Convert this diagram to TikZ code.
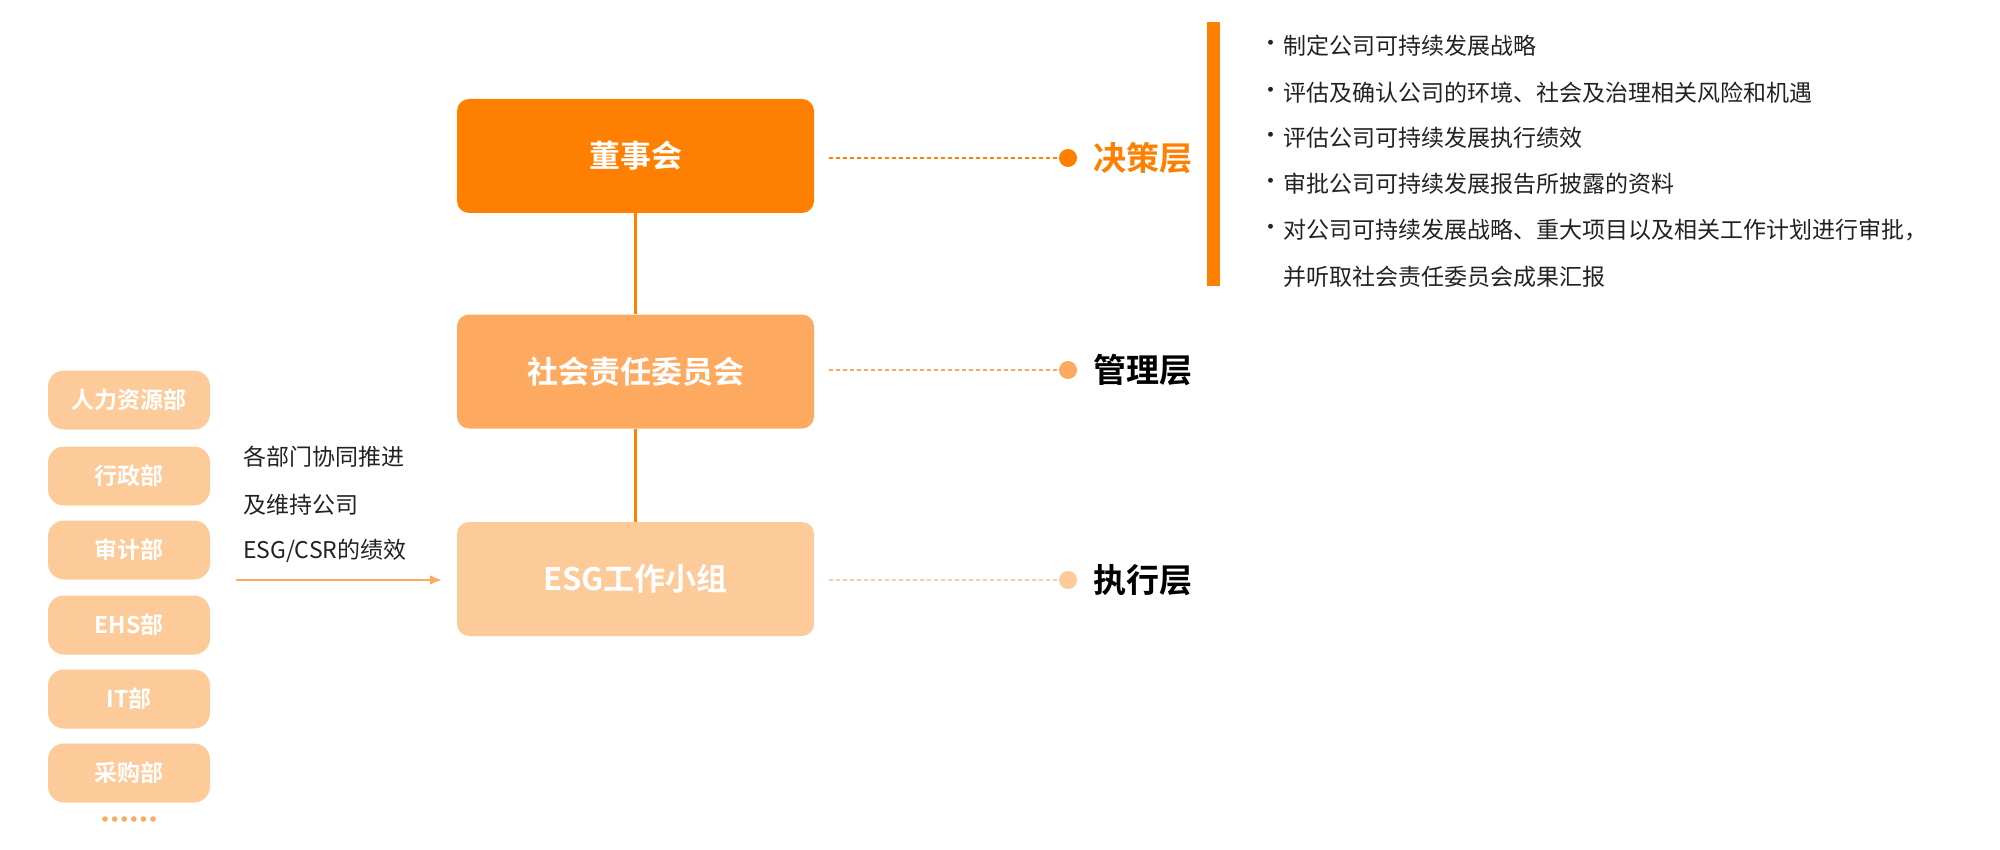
\documentclass[tikz,border=0pt]{standalone}
\usepackage{fontspec}
\usetikzlibrary{arrows.meta}
\setmainfont{Noto Sans CJK SC}
\newfontfamily\cjkb{Noto Sans CJK SC Bold}
\definecolor{o1}{HTML}{FF7F00}
\definecolor{o2}{HTML}{FDAA60}
\definecolor{o3}{HTML}{FDCA9A}
\definecolor{tx}{HTML}{222222}
\begin{document}
\begin{tikzpicture}[x=0.5pt,y=-0.5pt,
  mainbox/.style={rounded corners=6pt,minimum width=178.5pt,minimum height=57pt,text=white,font=\cjkb\fontsize{15.5}{18}\selectfont},
  dept/.style={fill=o3,rounded corners=8pt,minimum width=81pt,minimum height=29.5pt,text=white,font=\cjkb\fontsize{11.5}{14}\selectfont},
  lvl/.style={anchor=west,font=\cjkb\fontsize{16.5}{20}\selectfont},
  blt/.style={anchor=west,text=tx,font=\fontsize{11.5}{14}\selectfont}]
\useasboundingbox (0,0) rectangle (2000,850);
\node[mainbox,fill=o1] (b1) at (635.5,156) {董事会};
\node[mainbox,fill=o2] (b2) at (635.5,371.5) {社会责任委员会};
\node[mainbox,fill=o3] (b3) at (635.5,579) {ESG工作小组};
\draw[o1,line width=1.2pt] (b1.south) -- (b2.north);
\draw[o1,line width=1.2pt] (b2.south) -- (b3.north);
\foreach \i/\y/\c/\t/\tc in {1/158/o1/决策层/o1, 2/370/o2/管理层/black, 3/580/o3/执行层/black}{
  \coordinate (s\i) at (829,\y);
  \node[circle,fill=\c,inner sep=0pt,minimum size=9pt] (d\i) at (1068,\y) {};
  \draw[\c,dash pattern=on 2pt off 1.5pt,line width=0.7pt] (s\i) -- (d\i);
  \node[lvl,text=\tc] (l\i) at (1086,\y) {\t};
}
\fill[o1] (1207,22) rectangle (1220,286);
\foreach \y/\t in {46/制定公司可持续发展战略, 93/评估及确认公司的环境、社会及治理相关风险和机遇, 138/评估公司可持续发展执行绩效, 184/审批公司可持续发展报告所披露的资料, 230/对公司可持续发展战略、重大项目以及相关工作计划进行审批，}{
  \node[blt] at (1252,\y) {•};
  \node[blt] at (1276,\y) {\t};
}
\node[blt] (last) at (1276,277) {并听取社会责任委员会成果汇报};
\foreach \y/\t [count=\k] in {400/人力资源部,476/行政部,550/审计部,625/EHS部,699/IT部,773/采购部}{
  \node[dept] (p\k) at (129,\y) {\t};
}
\foreach \xx in {105,114.6,124.2,133.8,143.4,153}{\fill[o2] (\xx,819) circle (1.4pt);}
\node[blt] (n1) at (236,457) {各部门协同推进};
\node[blt] (n2) at (236,505) {及维持公司};
\node[blt] (n3) at (236,551) {ESG/CSR的绩效};
\coordinate (a0) at (236,580);
\coordinate (a1) at (442,580);
\draw[o2,line width=1.2pt,-{Latex[length=6pt,width=5pt]}] (a0) -- (a1);
\end{tikzpicture}
\end{document}
